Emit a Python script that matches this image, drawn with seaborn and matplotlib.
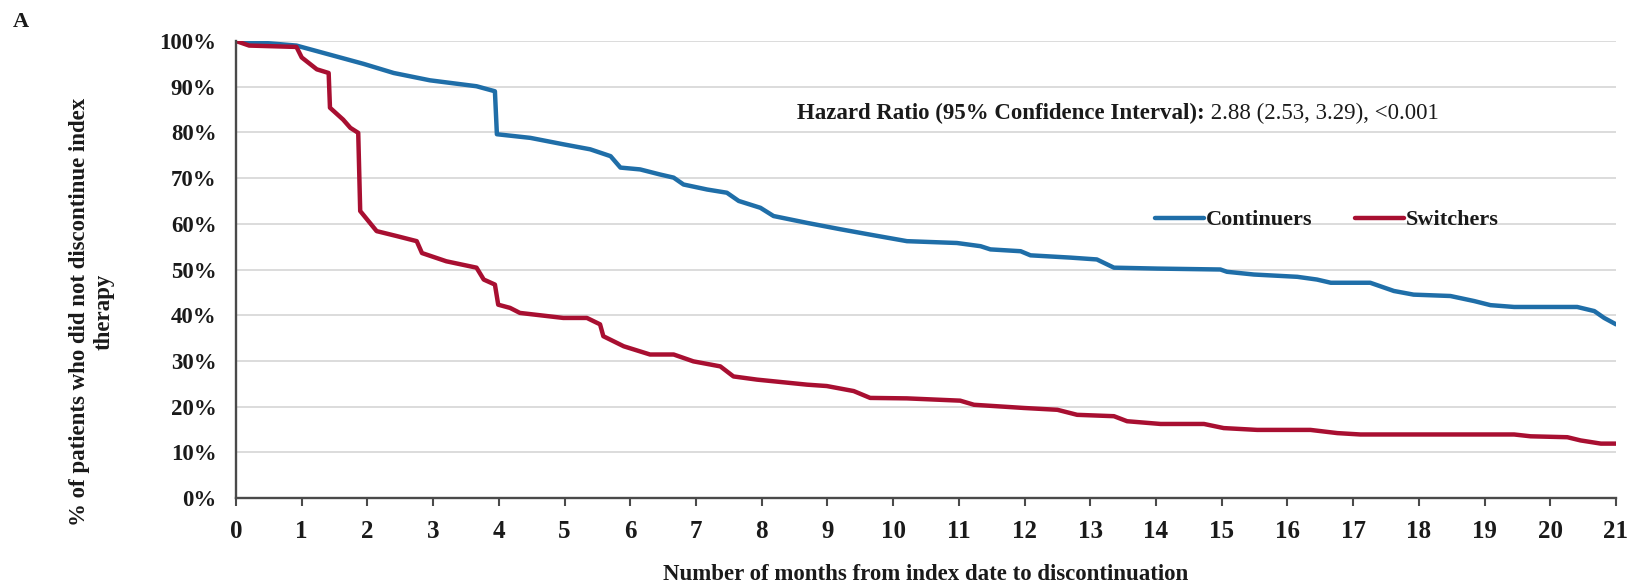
import pandas as pd
import matplotlib
matplotlib.use("Agg")
import matplotlib.pyplot as plt
import seaborn as sns
from matplotlib.ticker import PercentFormatter

# data (month, % still on index therapy)
cont_months = [0, 0.5, 0.92, 1.43, 1.94, 2.4, 2.95, 3.66, 3.94, 3.97, 4.48, 4.98, 5.39, 5.7, 5.85,
               6.15, 6.45, 6.66, 6.81, 7.17, 7.47, 7.65, 7.98, 8.18, 8.69, 9.2, 9.7, 10.21, 10.97,
               11.33, 11.48, 11.94, 12.09, 12.7, 13.1, 13.36, 14.02, 14.98, 15.08, 15.49, 16.15,
               16.45, 16.66, 17.26, 17.62, 17.92, 18.48, 18.84, 19.09, 19.45, 20.41, 20.67, 20.82, 21.0]
cont_pct = [100, 99.5, 99, 97, 95, 93, 91.4, 90.1, 89, 79.6, 78.8, 77.4, 76.3, 74.8, 72.3,
            71.9, 70.8, 70.1, 68.6, 67.5, 66.8, 65, 63.5, 61.7, 60.2, 58.8, 57.5, 56.2, 55.8,
            55.1, 54.4, 54, 53.1, 52.6, 52.2, 50.4, 50.2, 50, 49.5, 48.9, 48.4,
            47.8, 47.1, 47.1, 45.3, 44.5, 44.2, 43.1, 42.2, 41.8, 41.8, 40.9, 39.4, 38]

sw_months = [0, 0.2, 0.92, 1.0, 1.23, 1.41, 1.43, 1.63, 1.74, 1.86, 1.89, 2.14, 2.45, 2.75, 2.83,
             3.2, 3.66, 3.77, 3.94, 3.99, 4.17, 4.32, 4.98, 5.34, 5.54, 5.59, 5.9, 6.3, 6.66,
             6.96, 7.37, 7.57, 7.93, 8.69, 8.99, 9.4, 9.65, 10.21, 11.02, 11.23, 11.99, 12.5,
             12.8, 13.36, 13.56, 14.07, 14.73, 15.03, 15.54, 16.35, 16.76, 17.11, 19.45, 19.7,
             20.26, 20.46, 20.77, 21.0]
sw_pct = [100, 99, 98.7, 96.4, 93.8, 93, 85.4, 82.8, 81, 79.9, 62.8, 58.4, 57.3, 56.2, 53.6,
          51.8, 50.4, 47.8, 46.7, 42.3, 41.6, 40.5, 39.4, 39.4, 38, 35.4, 33.2, 31.4, 31.4,
          29.9, 28.8, 26.6, 25.9, 24.8, 24.5, 23.4, 21.9, 21.8, 21.3, 20.4, 19.7, 19.3,
          18.2, 17.9, 16.8, 16.2, 16.2, 15.3, 14.9, 14.9, 14.2, 13.9, 13.9, 13.5,
          13.3, 12.6, 11.9, 11.9]

groups = ["Continuers", "Switchers"]
month_ticks = list(range(0, 22))
pct_ticks = list(range(0, 101, 10))
hr_bold = "Hazard Ratio (95% Confidence Interval):"
hr_value = " 2.88 (2.53, 3.29), <0.001"

df = pd.concat([
    pd.DataFrame({"month": cont_months, "pct": cont_pct, "group": groups[0]}),
    pd.DataFrame({"month": sw_months, "pct": sw_pct, "group": groups[1]}),
], ignore_index=True)

sns.set_theme(style="whitegrid")
plt.rcParams["font.family"] = ["Liberation Serif", "DejaVu Serif"]
plt.rcParams["font.weight"] = "bold"

fig = plt.figure(figsize=(16.31, 5.88), dpi=100)
ax = fig.add_axes([236 / 1631, 1 - 498 / 588, (1616 - 236) / 1631, (498 - 41) / 588])

sns.lineplot(data=df, x="month", y="pct", hue="group", palette=["#1f6ea8", "#a80f31"],
             estimator=None, sort=False, linewidth=3.2, ax=ax)

ax.set_xlim(0, 21)
ax.set_ylim(0, 100)
ax.set_xticks(month_ticks)
ax.set_yticks(pct_ticks)
ax.yaxis.set_major_formatter(PercentFormatter(decimals=0))
ax.grid(axis="x", visible=False)
ax.grid(axis="y", color="#d9d9d9", linewidth=1.3)
ax.set_facecolor("white")
for s in ["top", "right"]:
    ax.spines[s].set_visible(False)
for s in ["left", "bottom"]:
    ax.spines[s].set_color("#4a4a4a")
    ax.spines[s].set_linewidth(1.7)
ax.tick_params(axis="x", length=6, width=1.5, color="#4a4a4a", direction="out",
               bottom=True, labelsize=18, pad=10)
ax.tick_params(axis="y", length=0, labelsize=16.5, pad=14)
for lab in ax.get_xticklabels() + ax.get_yticklabels():
    lab.set_fontweight("bold")
    lab.set_color("#1a1a1a")

ax.set_xlabel("")
ax.set_ylabel("")
fig.text(926 / 1631, 1 - 575 / 588, "Number of months from index date to discontinuation",
         ha="center", va="center", fontsize=16.5, fontweight="bold", color="#1a1a1a")
fig.text(92 / 1631, 1 - 312 / 588, "% of patients who did not discontinue index\ntherapy",
         ha="center", va="center", rotation=90, fontsize=16.5, fontweight="bold",
         linespacing=1.25, color="#1a1a1a")
fig.text(13 / 1631, 1 - 22 / 588, "A", ha="left", va="center", fontsize=16,
         fontweight="bold", color="#1a1a1a")

t1 = fig.text(797 / 1631, 1 - 113 / 588, hr_bold, ha="left", va="center", fontsize=16.5,
              fontweight="bold", color="#1a1a1a")
ax.annotate(hr_value, xy=(1, 0), xycoords=t1, va="bottom", ha="left", fontsize=16.5,
            fontweight="normal", color="#1a1a1a")

leg = ax.legend(loc="center left", bbox_to_anchor=(1155 / 1631, 1 - 220 / 588),
                bbox_transform=fig.transFigure, ncol=2, frameon=False, fontsize=16,
                handlelength=2.2, handletextpad=0.1, columnspacing=1.9,
                borderpad=0, borderaxespad=0, title=None)
for t in leg.get_texts():
    t.set_fontweight("bold")
    t.set_color("#1a1a1a")
for h in leg.get_lines():
    h.set_linewidth(3.2)

fig.savefig("out.png", dpi=100, facecolor="white")
